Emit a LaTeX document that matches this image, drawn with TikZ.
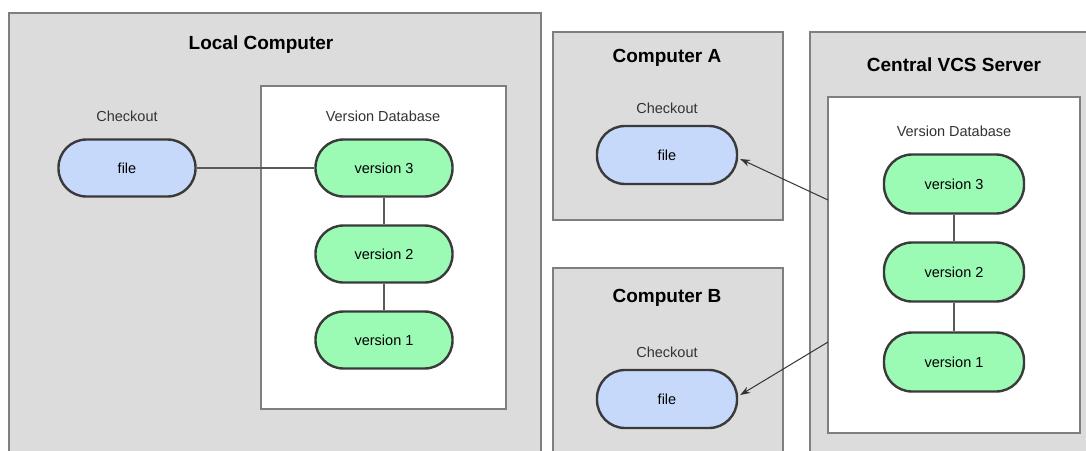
\documentclass[tikz,border=0pt]{standalone}
\usepackage{fontspec}
\setmainfont{Liberation Sans}
\usetikzlibrary{arrows.meta}
\definecolor{panelgray}{HTML}{DCDCDC}
\definecolor{panelline}{HTML}{7F7F7F}
\definecolor{filefill}{HTML}{C6D9FA}
\definecolor{verfill}{HTML}{9BFBB5}
\definecolor{nodeline}{HTML}{3A3A3A}
\tikzset{
  panel/.style={draw=panelline, fill=panelgray, line width=1.3pt},
  dbbox/.style={draw=panelline, fill=white, line width=1.3pt},
  pill/.style={draw=nodeline, line width=2.4pt, rectangle, rounded corners=28pt,
    minimum width=137pt, minimum height=57pt, inner sep=0pt,
    font=\fontsize{14.5}{17}\selectfont},
  filenode/.style={pill, fill=filefill},
  vernode/.style={pill, fill=verfill},
  title/.style={font=\fontsize{19}{22}\selectfont\bfseries, inner sep=0pt},
  label/.style={font=\fontsize{14.5}{17}\selectfont, text=black!80, inner sep=0pt},
  link/.style={draw=black!65, line width=1.1pt},
  fetch/.style={draw=black!80, line width=1pt, -{Stealth[length=10pt,width=7pt]}}
}
\begin{document}
\begin{tikzpicture}[x=1pt, y=-1pt]
  \useasboundingbox (0,0) rectangle (1086,450);
  \clip (0,0) rectangle (1086,450);
  \fill[white] (0,0) rectangle (1086,450);

  % Local computer with its own version database
  \path[panel] (9,13) rectangle (541,470);
  \path[dbbox] (261,86) rectangle (506,409);
  \node[title] (ltitle) at (261,45) {Local Computer};
  \node[label] (lco) at (127,116) {Checkout};
  \node[label] (ldb) at (383,116) {Version Database};
  \node[filenode] (lfile) at (127,168) {file};
  \node[vernode] (lv3) at (384,168) {version 3};
  \node[vernode] (lv2) at (384,254) {version 2};
  \node[vernode] (lv1) at (384,340) {version 1};
  \draw[link] (lfile) -- (lv3);
  \draw[link] (lv3) -- (lv2);
  \draw[link] (lv2) -- (lv1);

  % Client computers
  \path[panel] (553,32) rectangle (783,220);
  \node[title] (atitle) at (667,58) {Computer A};
  \node[label] (aco) at (667,108) {Checkout};
  \node[filenode, minimum width=140pt, minimum height=58pt] (afile) at (667,155) {file};

  \path[panel] (553,268) rectangle (783,470);
  \node[title] (btitle) at (667,298) {Computer B};
  \node[label] (bco) at (667,352) {Checkout};
  \node[filenode, minimum width=140pt, minimum height=58pt] (bfile) at (667,399) {file};

  % Central server
  \path[panel] (810,32) rectangle (1100,470);
  \path[dbbox] (828,97) rectangle (1080,433);
  \node[title] (stitle) at (954,65) {Central VCS Server};
  \node[label] (sdb) at (954,131) {Version Database};
  \node[vernode, minimum width=140pt, minimum height=59pt] (sv3) at (954,184) {version 3};
  \node[vernode, minimum width=140pt, minimum height=59pt] (sv2) at (954,272) {version 2};
  \node[vernode, minimum width=140pt, minimum height=59pt] (sv1) at (954,362) {version 1};
  \draw[link] (sv3) -- (sv2);
  \draw[link] (sv2) -- (sv1);

  % Checkouts from the server
  \coordinate (aout) at (828,200);
  \coordinate (bout) at (828,342);
  \draw[fetch] (aout) -- ([yshift=-4pt,xshift=2pt]afile.east);
  \draw[fetch] (bout) -- ([yshift=4pt,xshift=2pt]bfile.east);
\end{tikzpicture}
\end{document}
